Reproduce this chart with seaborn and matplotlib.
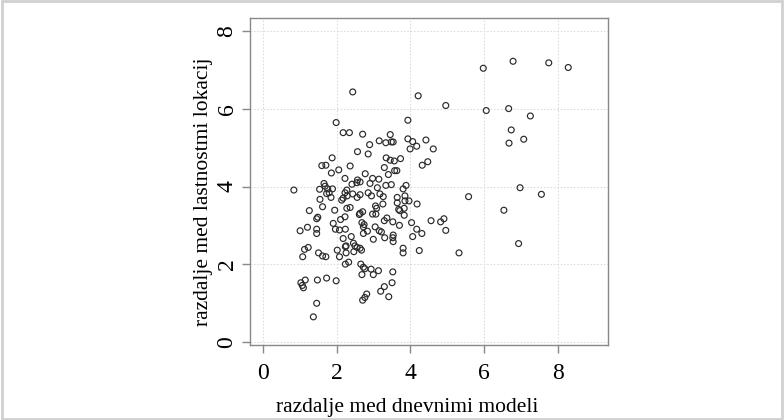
import matplotlib
matplotlib.use("Agg")
import matplotlib.pyplot as plt
from matplotlib.patches import Rectangle
import seaborn as sns
import pandas as pd

x_vals = [
    5.98, 6.79, 7.76, 8.29, 4.96, 6.06, 6.67, 7.26, 6.74, 7.08,
    6.68, 6.98, 7.56, 5.58, 6.54, 4.91, 4.82, 4.96, 6.94, 5.32,
    2.43, 4.21, 3.93, 2.70, 3.45, 3.93, 3.15, 3.33, 3.48, 3.53,
    4.06, 4.42, 2.89, 4.17, 3.99, 4.62, 2.56, 2.85, 3.34, 3.45,
    3.56, 3.73, 4.47, 4.32, 3.29, 3.57, 3.63, 2.36, 2.77, 3.40,
    2.97, 3.14, 2.56, 2.41, 2.90, 3.10, 3.33, 3.48, 3.80, 3.88,
    2.63, 2.55, 2.85, 2.94, 3.17, 3.26, 3.64, 3.64, 3.85, 3.85,
    3.96, 4.18, 3.25, 3.05, 3.08, 3.68, 3.71, 3.83, 3.83, 2.70,
    2.61, 2.97, 3.06, 2.36, 3.36, 3.29, 3.52, 3.70, 4.03, 4.56,
    2.68, 2.74, 2.72, 2.83, 2.72, 3.04, 3.15, 3.21, 2.99, 3.30,
    3.53, 3.52, 3.53, 4.06, 4.17, 4.31, 2.39, 2.45, 2.49, 2.46,
    2.63, 2.67, 3.80, 3.80, 4.24, 2.65, 2.72, 2.76, 2.93, 3.13,
    2.68, 2.99, 3.52, 3.50, 3.29, 3.19, 3.41, 2.81, 2.76, 2.70,
    1.98, 2.17, 2.34, 1.87, 1.59, 1.70, 2.05, 1.85, 2.22, 2.54,
    2.63, 1.65, 1.68, 0.83, 1.88, 1.75, 1.72, 1.53, 2.27, 2.22,
    2.28, 2.43, 1.84, 1.54, 1.79, 1.61, 1.25, 1.48, 1.45, 1.94,
    2.17, 2.13, 2.27, 2.22, 2.10, 1.90, 1.96, 2.07, 2.23, 1.00,
    1.20, 1.45, 1.45, 2.63, 2.17, 2.55, 2.23, 2.25, 2.01, 2.07,
    2.25, 1.12, 1.22, 1.07, 1.50, 1.61, 1.70, 2.23, 2.32, 1.02,
    1.14, 1.06, 1.09, 1.47, 1.72, 1.98, 1.45, 1.36,
]
y_vals = [
    7.05, 7.23, 7.19, 7.07, 6.09, 5.96, 6.01, 5.82, 5.46, 5.22,
    5.12, 3.97, 3.80, 3.74, 3.39, 3.17, 3.09, 2.87, 2.53, 2.29,
    6.44, 6.34, 5.71, 5.35, 5.34, 5.23, 5.18, 5.13, 5.15, 5.15,
    5.16, 5.20, 5.08, 5.04, 4.97, 4.97, 4.90, 4.84, 4.74, 4.68,
    4.66, 4.72, 4.64, 4.55, 4.49, 4.41, 4.41, 4.53, 4.33, 4.31,
    4.21, 4.19, 4.17, 4.06, 4.08, 3.97, 4.03, 4.05, 3.94, 4.03,
    3.79, 3.72, 3.84, 3.76, 3.81, 3.74, 3.72, 3.58, 3.76, 3.63,
    3.63, 3.55, 3.55, 3.50, 3.44, 3.41, 3.38, 3.44, 3.26, 3.35,
    3.28, 3.29, 3.29, 3.46, 3.19, 3.12, 3.09, 3.00, 3.07, 3.12,
    3.07, 3.02, 2.96, 2.85, 2.79, 2.96, 2.86, 2.83, 2.64, 2.68,
    2.75, 2.68, 2.58, 2.71, 2.90, 2.79, 2.71, 2.54, 2.47, 2.32,
    2.41, 2.36, 2.41, 2.29, 2.35, 2.00, 1.92, 1.88, 1.87, 1.83,
    1.73, 1.73, 1.80, 1.52, 1.42, 1.30, 1.16, 1.23, 1.14, 1.07,
    5.65, 5.39, 5.39, 4.74, 4.54, 4.55, 4.43, 4.35, 4.21, 4.10,
    4.12, 4.08, 4.01, 3.91, 3.94, 3.94, 3.82, 3.93, 3.91, 3.84,
    3.76, 3.81, 3.72, 3.67, 3.84, 3.48, 3.38, 3.21, 3.17, 3.39,
    3.70, 3.65, 3.44, 3.22, 3.15, 3.05, 2.90, 2.88, 2.90, 2.86,
    2.95, 2.90, 2.79, 3.31, 2.66, 2.43, 2.45, 2.47, 2.36, 2.19,
    2.29, 2.38, 2.43, 2.19, 2.29, 2.21, 2.19, 2.00, 2.05, 1.52,
    1.59, 1.45, 1.39, 1.59, 1.64, 1.57, 0.99, 0.64,
]
x_ticks = [0, 2, 4, 6, 8]
y_ticks = [0, 2, 4, 6, 8]
x_label = "razdalje med dnevnimi modeli"
y_label = "razdalje med lastnostmi lokacij"

df = pd.DataFrame({"x": x_vals, "y": y_vals})

sns.set_theme(style="white")
plt.rcParams["font.family"] = ["Liberation Serif", "DejaVu Serif"]

fig = plt.figure(figsize=(7.84, 4.2), dpi=100)
fig.patch.set_facecolor("white")
ax = fig.add_axes([0.319, 0.1786, 0.456, 0.778])

sns.scatterplot(data=df, x="x", y="y", ax=ax, marker="o", s=18,
                facecolor="none", edgecolor="#2a2a2a", linewidth=0.85)

ax.set_xlim(-0.36, 9.36)
ax.set_ylim(-0.085, 8.34)
ax.set_xticks(x_ticks)
ax.set_yticks(y_ticks)
ax.set_xticklabels([str(t) for t in x_ticks], fontsize=17)
ax.set_yticklabels([str(t) for t in y_ticks], fontsize=17, rotation=90, va="center")
ax.grid(True, color="#dddddd", linestyle=(0, (1.5, 1.5)), linewidth=0.8)
ax.set_axisbelow(True)
for sp in ax.spines.values():
    sp.set_visible(True)
    sp.set_color("#888888")
    sp.set_linewidth(1.0)
ax.tick_params(axis="x", which="major", direction="out", length=6,
               width=1.0, color="#888888", labelcolor="black", pad=7,
               bottom=True)
ax.tick_params(axis="y", which="major", direction="out", length=6,
               width=1.0, color="#888888", labelcolor="black", pad=3,
               left=True)
ax.set_xlabel(x_label, fontsize=15.5, color="black", va="center")
ax.set_ylabel(y_label, fontsize=15.5, color="black", va="center")
ax.xaxis.set_label_coords(0.439, -0.19)
ax.yaxis.set_label_coords(-0.129, 0.468)

fig.patches.append(Rectangle((0.002, 0.003), 0.996, 0.994, transform=fig.transFigure,
                             fill=False, edgecolor="#d0d0d0", linewidth=2))

fig.savefig("out.png", dpi=100, facecolor="white")
